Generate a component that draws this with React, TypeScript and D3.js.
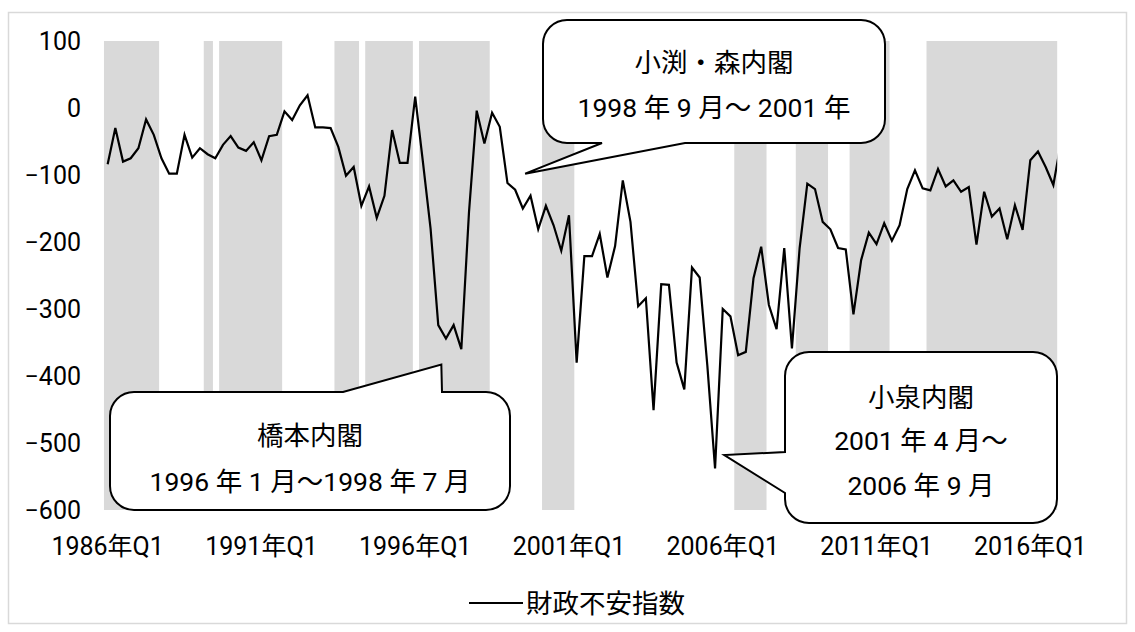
import { useEffect, useRef } from "react";
import * as d3 from "d3";

// quarterly index, 1986Q1 onward (last point runs off the plot edge)
const indexValues = [
  -84, -30, -80, -75, -60, -17, -40, -75, -98, -98,
  -40, -74, -60, -69, -75, -55, -42, -59, -64, -51,
  -78, -42, -40, -5, -18, 4, 19, -29, -29, -30,
  -58, -101, -88, -146, -117, -164, -131, -33, -82, -82,
  17, -80, -180, -324, -344, -324, -360, -155, -4, -53,
  -7, -28, -112, -122, -150, -131, -181, -146, -175, -213,
  -160, -380, -221, -221, -188, -253, -206, -108, -170, -296,
  -284, -451, -263, -264, -380, -420, -238, -253, -385, -538,
  -300, -311, -369, -364, -254, -207, -294, -330, -209, -359,
  -209, -113, -121, -170, -181, -209, -211, -308, -227, -186,
  -203, -172, -198, -175, -121, -93, -120, -123, -91, -117,
  -108, -125, -118, -204, -125, -162, -150, -196, -145, -182,
  -78, -65, -88, -115, -50,
];

const categoryCount = 124; // quarters shown in the plot
const xTickLabels = ["1986年Q1", "1991年Q1", "1996年Q1", "2001年Q1", "2006年Q1", "2011年Q1", "2016年Q1"];
const xTickStep = 20;
const yTicks = [100, 0, -100, -200, -300, -400, -500, -600];

// shaded quarters, first and last index (inclusive)
const shadedPeriods = [
  [0, 6], [13, 13], [15, 22], [30, 32], [34, 39], [41, 49],
  [57, 60], [82, 85], [90, 93], [97, 101], [107, 123],
];

const seriesName = "財政不安指数";

// speech bubbles; tip is given in data space (quarter index, value)
const callouts = [
  {
    lines: ["小渕・森内閣", "1998 年 9 月～ 2001 年"],
    lineY: [62, 107],
    box: [543, 20, 885, 143],
    side: "bottom",
    base: [602, 685],
    tip: [54.3, -98],
  },
  {
    lines: ["橋本内閣", "1996 年 1 月～1998 年 7 月"],
    lineY: [435, 481],
    box: [110, 392, 510, 510],
    side: "top",
    base: [343, 442],
    tip: [43.4, -383],
  },
  {
    lines: ["小泉内閣", "2001 年 4 月～", "2006 年 9 月"],
    lineY: [397, 440, 485],
    box: [785, 352, 1057, 523],
    side: "left",
    base: [452, 493],
    tip: [80.2, -518],
  },
];

const FONT = "Roboto, 'Noto Sans CJK JP', sans-serif";

function bubblePath(c, tx, ty) {
  const [x0, y0, x1, y1] = c.box;
  const r = 24;
  const p = d3.path();
  p.moveTo(x0 + r, y0);
  if (c.side === "top") {
    p.lineTo(c.base[0], y0);
    p.lineTo(tx, ty);
    p.lineTo(c.base[1], y0);
  }
  p.lineTo(x1 - r, y0);
  p.arcTo(x1, y0, x1, y0 + r, r);
  p.lineTo(x1, y1 - r);
  p.arcTo(x1, y1, x1 - r, y1, r);
  if (c.side === "bottom") {
    p.lineTo(c.base[1], y1);
    p.lineTo(tx, ty);
    p.lineTo(c.base[0], y1);
  }
  p.lineTo(x0 + r, y1);
  p.arcTo(x0, y1, x0, y1 - r, r);
  if (c.side === "left") {
    p.lineTo(x0, c.base[1]);
    p.lineTo(tx, ty);
    p.lineTo(x0, c.base[0]);
  }
  p.lineTo(x0, y0 + r);
  p.arcTo(x0, y0, x0 + r, y0, r);
  p.closePath();
  return p.toString();
}

function FiscalChart() {
  const ref = useRef(null);

  useEffect(() => {
    const width = 1135;
    const height = 632;
    const plot = { left: 103.8, top: 41, right: 1057.2, bottom: 510 };

    d3.select(ref.current).selectAll("*").remove();

    const svg = d3
      .select(ref.current)
      .append("svg")
      .attr("width", width)
      .attr("height", height)
      .style("position", "absolute")
      .style("left", 0)
      .style("top", 0)
      .style("font-family", FONT);

    // band edges: quarter i occupies [x(i), x(i+1)]
    const x = d3
      .scaleLinear()
      .domain([0, categoryCount])
      .range([plot.left, plot.right]);

    const y = d3
      .scaleLinear()
      .domain([-600, 100])
      .range([plot.bottom, plot.top]);

    svg
      .append("rect")
      .attr("x", 8.5)
      .attr("y", 12.5)
      .attr("width", 1118)
      .attr("height", 611)
      .attr("fill", "#fff")
      .attr("stroke", "#d9d9d9")
      .attr("stroke-width", 1.5);

    svg
      .append("defs")
      .append("clipPath")
      .attr("id", "plot-clip")
      .append("rect")
      .attr("x", plot.left)
      .attr("y", 0)
      .attr("width", plot.right - plot.left)
      .attr("height", height);

    svg
      .append("g")
      .selectAll("rect")
      .data(shadedPeriods)
      .join("rect")
      .attr("x", (d) => x(d[0]))
      .attr("y", y(100))
      .attr("width", (d) => x(d[1] + 1) - x(d[0]) + 1.5)
      .attr("height", y(-600) - y(100))
      .attr("fill", "#d9d9d9")
      .attr("clip-path", "url(#plot-clip)");

    // y axis labels
    svg
      .append("g")
      .selectAll("text")
      .data(yTicks)
      .join("text")
      .attr("x", 81)
      .attr("y", (d) => y(d))
      .attr("dy", "0.36em")
      .attr("text-anchor", "end")
      .attr("font-size", 25)
      .attr("fill", "#000")
      .text((d) => (d < 0 ? "\u2212" + Math.abs(d) : String(d)));

    // x axis labels
    svg
      .append("g")
      .selectAll("text")
      .data(xTickLabels)
      .join("text")
      .attr("x", (d, i) => x(i * xTickStep + 0.5))
      .attr("y", 555)
      .attr("text-anchor", "middle")
      .attr("font-size", 25)
      .attr("fill", "#000")
      .text((d) => d);

    const line = d3
      .line()
      .x((d, i) => x(i + 0.5))
      .y((d) => y(d));

    svg
      .append("path")
      .datum(indexValues)
      .attr("fill", "none")
      .attr("stroke", "#000")
      .attr("stroke-width", 2.2)
      .attr("stroke-linejoin", "miter")
      .attr("clip-path", "url(#plot-clip)")
      .attr("d", line);

    // callouts
    callouts.forEach((c) => {
      const tx = x(c.tip[0] + 0.5);
      const ty = y(c.tip[1]);
      const g = svg.append("g");
      g.append("path")
        .attr("d", bubblePath(c, tx, ty))
        .attr("fill", "#fff")
        .attr("stroke", "#000")
        .attr("stroke-width", 2);
      const cx = (c.box[0] + c.box[2]) / 2;
      c.lines.forEach((t, k) => {
        g.append("text")
          .attr("x", cx)
          .attr("y", c.lineY[k])
          .attr("dy", "0.36em")
          .attr("text-anchor", "middle")
          .attr("font-size", 26.5)
          .attr("fill", "#000")
          .text(t);
      });
    });

    // legend
    const legend = svg.append("g");
    legend
      .append("line")
      .attr("x1", 469)
      .attr("x2", 523)
      .attr("y1", 603)
      .attr("y2", 603)
      .attr("stroke", "#000")
      .attr("stroke-width", 2.2);
    legend
      .append("text")
      .attr("x", 526)
      .attr("y", 603)
      .attr("dy", "0.36em")
      .attr("font-size", 26.5)
      .attr("fill", "#000")
      .text(seriesName);
  }, []);

  return <div ref={ref}></div>;
}

export default function App() {
  return <FiscalChart />;
}
